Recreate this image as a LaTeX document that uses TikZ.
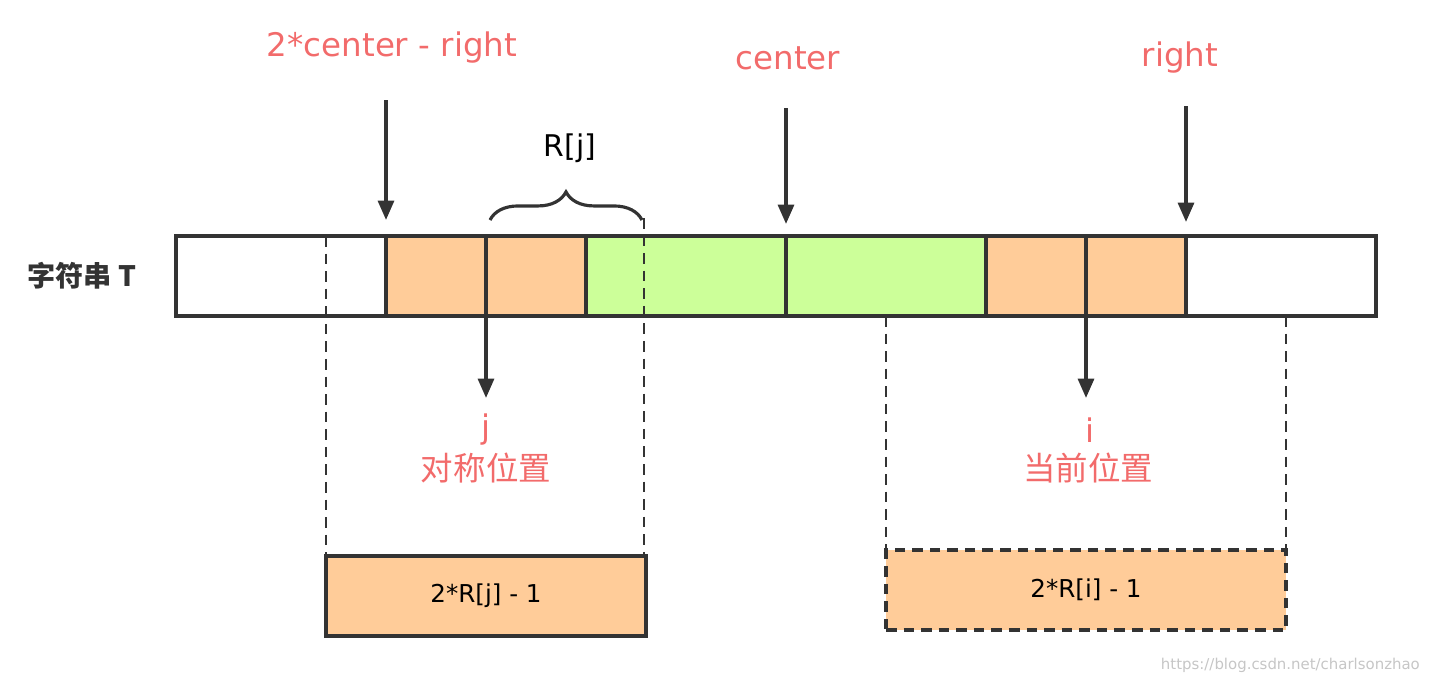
\documentclass[tikz,border=0pt]{standalone}
\usepackage{fontspec}
\setmainfont{DejaVu Sans}
\newfontfamily\cjk{Noto Sans CJK SC}
\usetikzlibrary{arrows.meta,decorations.pathreplacing}
\definecolor{lbl}{HTML}{F26B6B}
\definecolor{cellO}{HTML}{FFCC99}
\definecolor{cellG}{HTML}{CCFF99}
\definecolor{ln}{HTML}{333333}
\tikzset{
  cell/.style={draw=ln,line width=2pt},
  guide/.style={draw=ln,line width=1.6pt,dash pattern=on 6pt off 4pt},
  ptr/.style={draw=ln,line width=2pt,-{Triangle[length=11pt,width=9pt]}},
  redtxt/.style={text=lbl,font=\fontsize{18.5}{22}\selectfont},
}
\begin{document}
\begin{tikzpicture}[x=0.02cm,y=-0.02cm]
\useasboundingbox (0,0) rectangle (1430,684);
% cells of T
\filldraw[cell,fill=white] (176,236) rectangle (386,316);
\filldraw[cell,fill=cellO] (386,236) rectangle (486,316);
\filldraw[cell,fill=cellO] (486,236) rectangle (586,316);
\filldraw[cell,fill=cellG] (586,236) rectangle (786,316);
\filldraw[cell,fill=cellG] (786,236) rectangle (986,316);
\filldraw[cell,fill=cellO] (986,236) rectangle (1086,316);
\filldraw[cell,fill=cellO] (1086,236) rectangle (1186,316);
\filldraw[cell,fill=white] (1186,236) rectangle (1376,316);
\node[text=ln,font=\cjk\bfseries\fontsize{16}{19}\selectfont] (tname) at (82,276) {字符串 T};

% guides
\draw[guide] (326,236) -- (326,556);
\draw[guide] (644,218) -- (644,556);
\draw[guide] (886,316) -- (886,550);
\draw[guide] (1286,316) -- (1286,550);

% result boxes
\node[cell,fill=cellO,minimum width=320*0.02cm,minimum height=80*0.02cm,font=\fontsize{14}{16}\selectfont] (rj) at (486,596) {2*R[j] - 1};
\node[guide,line width=2pt,fill=cellO,minimum width=400*0.02cm,minimum height=80*0.02cm,font=\fontsize{14}{16}\selectfont] (ri) at (1086,590) {2*R[i] - 1};

% top pointers
\node[redtxt] (mir) at (392,48) {2*center - right};
\node[redtxt] (ctr) at (788,58) {center};
\node[redtxt] (rgt) at (1180,58) {right};
\coordinate (a1) at (386,100); \coordinate (b1) at (386,220);
\coordinate (a2) at (786,108); \coordinate (b2) at (786,224);
\coordinate (a3) at (1186,106); \coordinate (b3) at (1186,222);
\draw[ptr] (a1) -- (b1);
\draw[ptr] (a2) -- (b2);
\draw[ptr] (a3) -- (b3);

% brace
\coordinate (br1) at (490,220); \coordinate (br2) at (642,220);
\draw[ln,line width=1.8pt,decorate,decoration={brace,amplitude=16pt}] (br1) -- (br2);
\node[font=\fontsize{17}{20}\selectfont] (rlen) at (570,148) {R[j]};

% bottom pointers
\coordinate (c1) at (486,316); \coordinate (d1) at (486,398);
\coordinate (c2) at (1086,316); \coordinate (d2) at (1086,398);
\draw[ptr] (c1) -- (d1);
\draw[ptr] (c2) -- (d2);
\node[redtxt] (jj) at (486,430) {j};
\node[redtxt,font=\cjk\fontsize{18.5}{22}\selectfont] (jpos) at (486,468) {对称位置};
\node[redtxt] (ii) at (1090,430) {i};
\node[redtxt,font=\cjk\fontsize{18.5}{22}\selectfont] (ipos) at (1088,468) {当前位置};

\node[text=gray!45,font=\fontsize{8.5}{10}\selectfont,anchor=east] (wm) at (1426,665) {https://blog.csdn.net/charlsonzhao};
\end{tikzpicture}
\end{document}
